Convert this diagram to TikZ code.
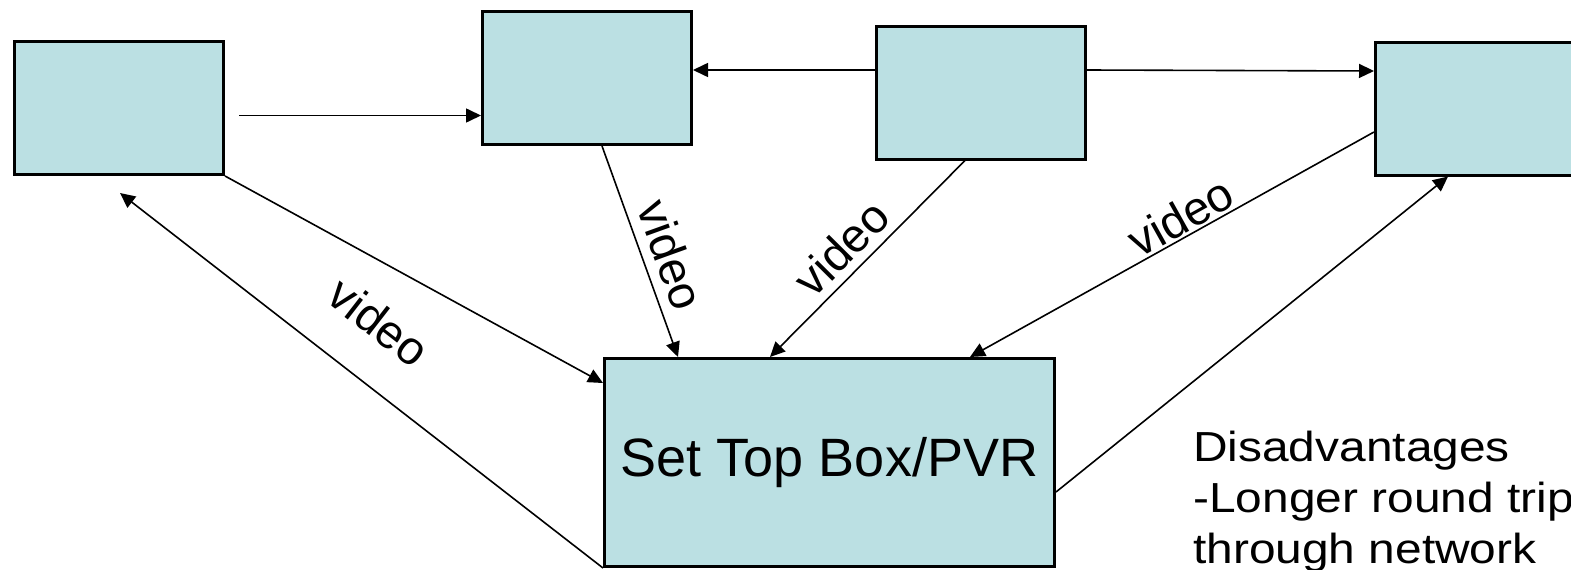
\documentclass[tikz,border=0pt]{standalone}
\usepackage{fontspec}
\setmainfont{Liberation Sans}
\usetikzlibrary{arrows.meta}
\definecolor{boxfill}{RGB}{187,224,227}
\begin{document}
\begin{tikzpicture}[x=1pt,y=-1pt,
  box/.style={draw=black,line width=3pt,fill=boxfill,rectangle,inner sep=0pt},
  arr/.style={line width=1.6pt,-{Triangle[length=15pt,width=14pt]}},
  lbl/.style={font=\fontsize{47}{56}\selectfont,inner sep=2pt}]
\useasboundingbox (0,0) rectangle (1571,570);
\clip (0,0) rectangle (1571,570);
\node[box,minimum width=209pt,minimum height=133pt] (A) at (119,108) {};
\node[box,minimum width=209pt,minimum height=133pt] (B) at (587,78) {};
\node[box,minimum width=209pt,minimum height=133pt] (C) at (981,92.5) {};
\node[box,minimum width=209pt,minimum height=133pt] (D) at (1480,108.5) {};
\node[box,minimum width=450pt,minimum height=208pt,font=\fontsize{54}{64}\selectfont] (STB) at (829.5,462.5) {Set Top Box/PVR};
\coordinate (c1) at (239,115.5);
\coordinate (y70) at (0,70);
\coordinate (a5) at (120,193);
\draw[arr] (c1) -- (c1 -| B.west);
\draw[arr] (C.west |- y70) -- (B.east |- y70);
\draw[arr] (C.east |- y70) -- ([yshift=37.5pt]D.west);
\draw[arr] (A.south east) -- ([yshift=79.5pt]STB.west);
\draw[arr] (STB.south west) -- node[lbl,pos=0.536,sloped,above=37pt] {video} (a5);
\draw[arr] ([yshift=-29.5pt]STB.east) -- ([xshift=-32pt]D.south);
\draw[arr] ([xshift=15pt]B.south) -- node[lbl,pos=0.56,sloped,above=8pt] {video} ([xshift=-151.5pt]STB.north);
\draw[arr] ([xshift=-16pt]C.south) -- node[lbl,pos=0.54,sloped,above=6pt] {video} ([xshift=-59.5pt]STB.north);
\draw[arr] ([yshift=-23.5pt]D.west) -- node[lbl,pos=0.455,sloped,above=0pt] {video} ([xshift=140.5pt]STB.north);
\node[anchor=base west,inner sep=0pt,font=\fontsize{42}{51}\selectfont,align=left] (dis) at (1193,563)
  {\scalebox{1.14}[1]{Disadvantages}\\\scalebox{1.14}[1]{-Longer round trip}\\\scalebox{1.14}[1]{through network}};
\end{tikzpicture}
\end{document}
